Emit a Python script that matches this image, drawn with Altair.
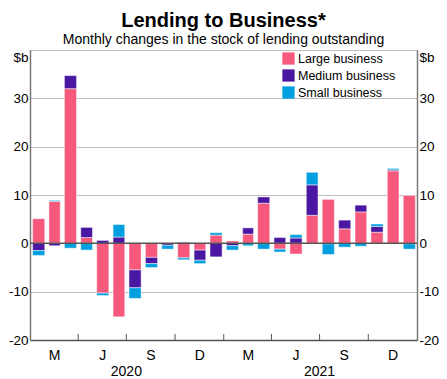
import altair as alt
import pandas as pd

months = [f"{y}-{m:02d}-01" for y in (2020, 2021) for m in range(1, 13)]
series = ["Large business", "Medium business", "Small business"]
colors = ["#F6597B", "#4A17A2", "#009FE0"]

large = [5.1, 8.7, 32.0, 1.2, -10.3, -15.2, -5.5, -2.9, 0.0, -3.0, -1.4, 1.7,
         0.5, 1.9, 8.3, -1.2, -2.2, 5.8, 9.1, 3.0, 6.5, 2.3, 15.0, 9.9]
medium = [-1.5, -0.5, 2.7, 2.1, 0.6, 1.3, -3.7, -1.3, -0.4, 0.2, -2.1, -2.8,
          -0.5, 1.3, 1.3, 1.2, 1.1, 6.3, -0.1, 1.8, 1.4, 1.2, 0.2, -0.1]
small = [-1.0, 0.2, -1.0, -1.4, -0.5, 2.6, -2.2, -0.8, -0.8, -0.4, -0.7, 0.5,
         -0.9, -0.5, -1.2, -0.6, 0.7, 2.6, -2.2, -0.8, -0.6, 0.5, 0.3, -1.1]

quarter_ticks = ["2020-04-01", "2020-07-01", "2020-10-01", "2021-01-01",
                 "2021-04-01", "2021-07-01", "2021-10-01"]
year_pos = ["2020-07-01", "2021-07-01"]
year_labels = ["2020", "2021"]
y_values = [-20, -10, 0, 10, 20, 30, 40]

rows = []
for i, d in enumerate(months):
    for k, (s, vals) in enumerate(zip(series, [large, medium, small])):
        rows.append({"date": d, "series": s, "value": vals[i], "order": k})
df = pd.DataFrame(rows)

FONT = "Liberation Sans"
W, H = 387, 290
LFS = 13.5

xscale = alt.Scale(type="utc", nice=False,
                   domain=[alt.DateTime(year=2020, month=1, date=1, utc=True),
                           alt.DateTime(year=2022, month=1, date=1, utc=True)])
yscale = alt.Scale(domain=[-20, 40], nice=False, zero=False)

xvals = [alt.DateTime(year=y, month=m, date=1, utc=True)
         for y in (2020, 2021) for m in (1, 4, 7, 10)] + [alt.DateTime(year=2022, month=1, date=1, utc=True)]
xaxis = alt.Axis(values=xvals, ticks=False, grid=False, title=None,
                 labelExpr="utcyear(datum.value) == 2022 ? '' : (utcmonth(datum.value) == 0 ? 'M' : utcmonth(datum.value) == 3 ? 'J' : utcmonth(datum.value) == 6 ? 'S' : 'D')",
                 labelOffset=W / 16, labelAlign="center", labelPadding=8,
                 labelFontSize=14, labelFont=FONT, labelColor="#000",
                 domainColor="#555", domainWidth=1.3)

ylabel_expr = "datum.value == 40 ? '$b' : '' + datum.value"
base_baseline = {"condition": {"test": "datum.value == 40", "value": "top"}, "value": "middle"}
yaxis_left = alt.Axis(values=y_values, title=None, ticks=False, grid=True,
                      gridColor="#bdbdbd", gridWidth=1,
                      labelExpr=ylabel_expr,
                      labelBaseline=base_baseline,
                      labelFontSize=LFS, labelFont=FONT, labelColor="#000", labelPadding=2,
                      domainColor="#777", domainWidth=1.5, orient="left")
yaxis_right = alt.Axis(values=y_values, title=None, ticks=False, grid=False,
                       labelExpr=ylabel_expr,
                       labelBaseline=base_baseline,
                       labelFontSize=LFS, labelFont=FONT, labelColor="#000", labelPadding=2,
                       labelAlign="left",
                       domainColor="#777", domainWidth=1.5, orient="right")

bars = alt.Chart(df).mark_bar(width=alt.RelativeBandSize(0.8), stroke="white",
                              strokeWidth=0.8, strokeOpacity=0.6).encode(
    x=alt.X("utcyearmonth(date):T", scale=xscale, axis=xaxis),
    y=alt.Y("value:Q", stack="zero", scale=yscale, axis=yaxis_left),
    color=alt.Color("series:N", scale=alt.Scale(domain=series, range=colors),
                    legend=alt.Legend(title=None, orient="none", legendX=252, legendY=2,
                                      symbolType="square", symbolSize=150,
                                      symbolStrokeWidth=0, labelFontSize=12.5,
                                      labelFont=FONT, labelColor="#000",
                                      rowPadding=4, labelOffset=3, padding=0)),
    order=alt.Order("order:Q", sort="ascending"),
)

zero = alt.Chart(pd.DataFrame({"v": [0]})).mark_rule(color="#555", strokeWidth=1.5).encode(
    y=alt.Y("v:Q", scale=yscale, axis=yaxis_right)
)

ticks = alt.Chart(pd.DataFrame({"date": quarter_ticks})).mark_rule(color="#555", strokeWidth=1).encode(
    x=alt.X("date:T", scale=xscale, axis=xaxis),
    y=alt.value(H),
    y2=alt.value(H - 6),
)

years = alt.Chart(pd.DataFrame({"date": year_pos, "label": year_labels})).mark_text(
    fontSize=14, font=FONT, color="#000", baseline="middle", align="center"
).encode(
    x=alt.X("date:T", scale=xscale, axis=xaxis),
    y=alt.value(H + 32),
    text="label:N",
)

chart = alt.layer(bars, zero, ticks, years).resolve_axis(y="independent").properties(
    width=W, height=H,
    autosize="none",
    padding={"left": 22, "top": 42, "right": 22, "bottom": 40},
    title=alt.TitleParams("Lending to Business*",
                          subtitle="Monthly changes in the stock of lending outstanding",
                          fontSize=20, fontWeight="bold", font=FONT, color="#000",
                          subtitleFontSize=14, subtitleFont=FONT, subtitleColor="#000",
                          anchor="middle", offset=3, subtitlePadding=2),
).configure_view(stroke="#444", strokeWidth=1)

chart.save("out.html", embed_options={"renderer": "svg", "actions": False})
